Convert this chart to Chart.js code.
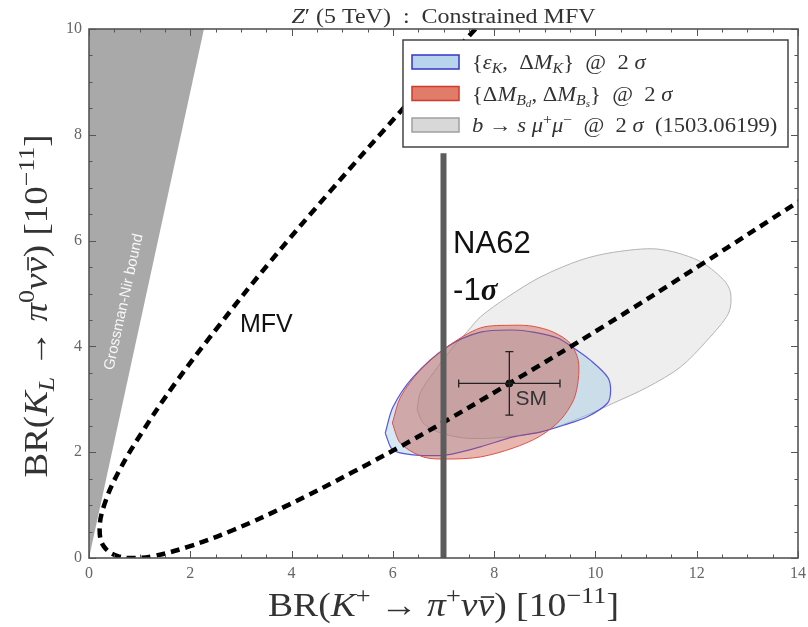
<!DOCTYPE html>
<html>
<head>
<meta charset="utf-8">
<script src="https://cdn.jsdelivr.net/npm/chart.js@4.4.0/dist/chart.umd.min.js"></script>
<style>
  html, body { margin: 0; padding: 0; background: #fff; }
</style>
</head>
<body>
<canvas id="zChart" width="808" height="627"></canvas>
<script>
// tick labels
const xTicks = [0, 2, 4, 6, 8, 10, 12, 14];
const yTicks = [0, 2, 4, 6, 8, 10];

// constrained MFV curve (upper branch -> vertex -> lower branch)
const mfvX = [7.63, 6.16, 4.77, 3.56, 2.54, 1.70, 1.05, 0.58, 0.30, 0.21, 0.30, 0.58, 0.87, 1.24, 1.95, 2.85, 3.93, 5.20, 6.66, 8.30, 10.13, 12.14, 14.03];
const mfvY = [10.0, 8.45, 6.94, 5.58, 4.36, 3.30, 2.38, 1.62, 1.00, 0.53, 0.21, 0.03, 0.00, 0.03, 0.21, 0.53, 1.00, 1.62, 2.38, 3.30, 4.36, 5.58, 6.75];

// Grossman-Nir excluded wedge
const gnX = [0, 0, 2.27, 0];
const gnY = [0, 10, 10, 0];

// NA62 -1 sigma
const na62X = [7.0, 7.0];
const na62Y = [0, 7.65];

// SM point with errors
const smX = [8.3];
const smY = [3.3];
const smXErr = [1.0];
const smYErr = [0.6];

// b -> s mu mu 2 sigma region
const bsX = [6.48, 6.54, 6.80, 7.19, 7.47, 7.73, 8.26, 8.91, 9.70, 10.36, 11.23, 12.02, 12.53, 12.67, 12.63, 12.21, 11.68, 11.03, 10.36, 9.70, 8.90, 8.00, 7.40, 6.90, 6.60, 6.48];
const bsY = [2.80, 3.12, 3.50, 3.99, 4.28, 4.56, 4.93, 5.31, 5.63, 5.78, 5.84, 5.63, 5.26, 5.01, 4.63, 4.12, 3.61, 3.23, 2.93, 2.65, 2.38, 2.27, 2.27, 2.38, 2.55, 2.80];

// Delta M_Bd, Delta M_Bs 2 sigma region
const bX = [5.99, 6.15, 6.54, 7.07, 7.73, 8.38, 8.77, 9.17, 9.50, 9.66, 9.66, 9.57, 9.31, 8.90, 8.38, 7.73, 7.07, 6.60, 6.15, 5.99];
const bY = [2.55, 3.04, 3.55, 3.99, 4.35, 4.40, 4.38, 4.27, 4.06, 3.74, 3.36, 2.99, 2.61, 2.30, 2.08, 1.91, 1.87, 1.91, 2.17, 2.55];

// eps_K, Delta M_K 2 sigma region
const kX = [5.85, 6.00, 6.40, 7.07, 7.73, 8.38, 8.77, 9.25, 9.57, 9.90, 10.24, 10.30, 10.24, 9.84, 9.37, 8.91, 8.38, 7.73, 7.07, 6.40, 6.00, 5.85];
const kY = [2.36, 2.85, 3.42, 3.99, 4.27, 4.31, 4.27, 4.16, 3.97, 3.74, 3.42, 3.18, 2.93, 2.67, 2.51, 2.38, 2.29, 2.10, 1.95, 1.95, 2.04, 2.36];

const SERIF = '"Liberation Serif", "DejaVu Serif", serif';
const SANS = '"Liberation Sans", Arial, sans-serif';

// rich text pieces: [text, flags]  i=italic b=bold ^=sup _=sub -=overbar s=sans
const titleParts = [["Z", "i"], ["\u2032", ""], [" (5 TeV)  :  Constrained MFV", ""]];
const xTitleParts = [["BR(", ""], ["K", "i"], ["+", "^"], [" \u2192 ", ""], ["\u03C0", "i"], ["+", "^"], ["\u03BD", "i"], ["\u03BD", "i-"], [") [10", ""], ["\u221211", "^"], ["]", ""]];
const yTitleParts = [["BR(", ""], ["K", "i"], ["L", "i_"], [" \u2192 ", ""], ["\u03C0", "i"], ["0", "^"], ["\u03BD", "i"], ["\u03BD", "i-"], [") [10", ""], ["\u221211", "^"], ["]", ""]];
const legendRows = [
  { fill: "rgba(184,212,236,1)", stroke: "#3434c8",
    parts: [["{", ""], ["\u03B5", "i"], ["K", "i_"], [",  \u0394", ""], ["M", "i"], ["K", "i_"], ["}  @  2 ", ""], ["\u03C3", "i"]] },
  { fill: "rgba(226,124,106,1)", stroke: "#d0392e",
    parts: [["{\u0394", ""], ["M", "i"], ["B", "i_"], ["d", "i__"], [", \u0394", ""], ["M", "i"], ["B", "i_"], ["s", "i__"], ["}  @  2 ", ""], ["\u03C3", "i"]] },
  { fill: "rgba(216,216,216,1)", stroke: "#a0a0a0",
    parts: [["b", "i"], [" \u2192 ", ""], ["s", "i"], [" ", ""], ["\u03BC", "i"], ["+", "^"], ["\u03BC", "i"], ["\u2212", "^"], ["  @  2 ", ""], ["\u03C3", "i"], ["  (1503.06199)", ""]] }
];

function partStyle(flags, size) {
  let s = size, dy = 0;
  for (const c of flags) {
    if (c === "^") { dy -= s * 0.38; s *= 0.7; }
    if (c === "_") { dy += s * 0.2; s *= 0.7; }
  }
  const font = (flags.includes("i") ? "italic " : "") + (flags.includes("b") ? "bold " : "") +
    s.toFixed(1) + "px " + (flags.includes("s") ? SANS : SERIF);
  return { s, dy, font };
}

function drawRich(ctx, parts, x, y, size, opts = {}) {
  const stretch = opts.stretch || 1;
  ctx.save();
  ctx.translate(x, y);
  if (opts.rotate) ctx.rotate(opts.rotate);
  ctx.scale(stretch, 1);
  ctx.textBaseline = "alphabetic";
  ctx.textAlign = "left";
  ctx.fillStyle = opts.color || "#222";
  const items = parts.map(([t, f]) => {
    const st = partStyle(f, size);
    ctx.font = st.font;
    return { t, f, st, w: ctx.measureText(t).width };
  });
  const total = items.reduce((a, it) => a + it.w, 0);
  let cx = opts.align === "center" ? -total / 2 : 0;
  for (const it of items) {
    ctx.font = it.st.font;
    ctx.fillText(it.t, cx, it.st.dy);
    if (it.f.includes("-")) {
      ctx.fillRect(cx + it.w * 0.2, it.st.dy - it.st.s * 0.6, it.w * 0.8, Math.max(1.2, it.st.s * 0.05));
    }
    cx += it.w;
  }
  ctx.restore();
}

const pts = (xs, ys) => xs.map((x, i) => ({ x, y: ys[i] }));

const overlay = {
  id: "overlay",
  afterDraw(chart) {
    const { ctx, chartArea: a, scales: { x, y } } = chart;

    // frame + inward ticks
    ctx.save();
    ctx.strokeStyle = "#555";
    ctx.lineWidth = 1;
    for (let v = 0; v <= 14.001; v += 0.5) {
      const px = Math.round(x.getPixelForValue(v)) + 0.5;
      const len = v % 2 === 0 ? 7 : 3.5;
      ctx.beginPath();
      ctx.moveTo(px, a.bottom); ctx.lineTo(px, a.bottom - len);
      ctx.moveTo(px, a.top); ctx.lineTo(px, a.top + len);
      ctx.stroke();
    }
    for (let v = 0; v <= 10.001; v += 0.5) {
      const py = Math.round(y.getPixelForValue(v)) + 0.5;
      const len = v % 2 === 0 ? 7 : 3.5;
      ctx.beginPath();
      ctx.moveTo(a.left, py); ctx.lineTo(a.left + len, py);
      ctx.moveTo(a.right, py); ctx.lineTo(a.right - len, py);
      ctx.stroke();
    }
    ctx.lineWidth = 1.6;
    ctx.strokeRect(a.left, a.top, a.right - a.left, a.bottom - a.top);
    ctx.restore();

    // SM error bars
    ctx.save();
    ctx.strokeStyle = "#222";
    ctx.lineWidth = 1.3;
    smX.forEach((sx, i) => {
      const cx = x.getPixelForValue(sx), cy = y.getPixelForValue(smY[i]);
      const x0 = x.getPixelForValue(sx - smXErr[i]), x1 = x.getPixelForValue(sx + smXErr[i]);
      const y0 = y.getPixelForValue(smY[i] - smYErr[i]), y1 = y.getPixelForValue(smY[i] + smYErr[i]);
      ctx.beginPath();
      ctx.moveTo(x0, cy); ctx.lineTo(x1, cy);
      ctx.moveTo(cx, y0); ctx.lineTo(cx, y1);
      ctx.moveTo(cx - 4, y0); ctx.lineTo(cx + 4, y0);
      ctx.moveTo(cx - 4, y1); ctx.lineTo(cx + 4, y1);
      ctx.moveTo(x0, cy - 4); ctx.lineTo(x0, cy + 4);
      ctx.moveTo(x1, cy - 4); ctx.lineTo(x1, cy + 4);
      ctx.stroke();
    });
    ctx.restore();

    // Grossman-Nir label along the wedge edge
    const ang = Math.atan2(y.getPixelForValue(10) - y.getPixelForValue(0), x.getPixelForValue(2.27) - x.getPixelForValue(0));
    ctx.save();
    ctx.translate(x.getPixelForValue(0.69), y.getPixelForValue(4.84));
    ctx.rotate(ang);
    ctx.font = "15px " + SANS;
    ctx.fillStyle = "rgba(255,255,255,0.9)";
    ctx.textAlign = "center";
    ctx.textBaseline = "middle";
    ctx.fillText("Grossman-Nir bound", 0, 0);
    ctx.restore();

    // annotations
    ctx.save();
    ctx.fillStyle = "#111";
    ctx.textBaseline = "alphabetic";
    ctx.textAlign = "left";
    ctx.font = "25px " + SANS;
    ctx.fillText("MFV", x.getPixelForValue(2.98), y.getPixelForValue(4.28));
    ctx.font = "31px " + SANS;
    ctx.fillText("NA62", x.getPixelForValue(7.19), y.getPixelForValue(5.77));
    ctx.fillText("-1", x.getPixelForValue(7.19), y.getPixelForValue(4.88));
    const w1 = ctx.measureText("-1").width;
    ctx.font = "bold italic 31px " + SERIF;
    ctx.fillText("\u03C3", x.getPixelForValue(7.19) + w1, y.getPixelForValue(4.88));
    ctx.fillStyle = "#333";
    ctx.font = "21px " + SANS;
    ctx.fillText("SM", x.getPixelForValue(8.42), y.getPixelForValue(2.89));
    ctx.restore();

    // title and axis titles
    const mid = (a.left + a.right) / 2;
    drawRich(ctx, titleParts, mid, a.top - 6, 20, { align: "center", color: "#333", stretch: 1.2 });
    drawRich(ctx, xTitleParts, mid, 616, 33, { align: "center", color: "#333", stretch: 1.14 });
    drawRich(ctx, yTitleParts, 47, 306, 33, { align: "center", color: "#333", stretch: 1.12, rotate: -Math.PI / 2 });

    // legend box
    const lx = a.right - 10 - 385, ly = a.top + 11;
    ctx.save();
    ctx.fillStyle = "#fff";
    ctx.fillRect(lx, ly, 385, 107);
    ctx.strokeStyle = "#444";
    ctx.lineWidth = 1.5;
    ctx.strokeRect(lx, ly, 385, 107);
    legendRows.forEach((r, i) => {
      const ry = ly + 22 + i * 31.5;
      ctx.fillStyle = r.fill;
      ctx.strokeStyle = r.stroke;
      ctx.lineWidth = 1.5;
      ctx.fillRect(lx + 9, ry - 7, 47, 14);
      ctx.strokeRect(lx + 9, ry - 7, 47, 14);
      drawRich(ctx, r.parts, lx + 69, ry + 7, 20, { color: "#333", stretch: 1.13 });
    });
    ctx.restore();
  }
};

new Chart(document.getElementById("zChart"), {
  type: "line",
  data: {
    datasets: [{
      label: "SM",
      data: pts(smX, smY),
      showLine: false,
      pointRadius: 3.5,
      pointBackgroundColor: "#111",
      pointBorderColor: "#111",
      order: 0
    }, {
      label: "NA62",
      data: pts(na62X, na62Y),
      borderColor: "#5c5c5c",
      borderWidth: 6,
      pointRadius: 0,
      fill: false,
      order: 1
    }, {
      label: "MFV",
      data: pts(mfvX, mfvY),
      borderColor: "#000",
      borderWidth: 4.5,
      borderDash: [9, 6],
      borderCapStyle: "butt",
      pointRadius: 0,
      tension: 0.4,
      fill: false,
      clip: 0,
      order: 2
    }, {
      label: "DeltaM_B",
      data: pts(bX, bY),
      borderColor: "rgba(220,70,60,0.9)",
      backgroundColor: "rgba(195,75,55,0.4)",
      borderWidth: 1,
      pointRadius: 0,
      tension: 0.3,
      fill: "shape",
      order: 3
    }, {
      label: "epsK",
      data: pts(kX, kY),
      borderColor: "rgba(70,70,220,0.9)",
      backgroundColor: "rgba(150,195,230,0.38)",
      borderWidth: 1.2,
      pointRadius: 0,
      tension: 0.3,
      fill: "shape",
      order: 4
    }, {
      label: "bsmumu",
      data: pts(bsX, bsY),
      borderColor: "#b4b4b4",
      backgroundColor: "#eeeeee",
      borderWidth: 1,
      pointRadius: 0,
      tension: 0.3,
      fill: "shape",
      order: 5
    }, {
      label: "GN",
      data: pts(gnX, gnY),
      borderWidth: 0,
      borderColor: "rgba(0,0,0,0)",
      backgroundColor: "#a9a9a9",
      pointRadius: 0,
      fill: "shape",
      order: 6
    }]
  },
  options: {
    responsive: false,
    animation: false,
    layout: { padding: { top: 29, right: 10, left: 0, bottom: 0 } },
    plugins: { legend: { display: false }, tooltip: { enabled: false }, title: { display: false } },
    scales: {
      x: {
        type: "linear", min: 0, max: 14,
        afterBuildTicks: s => { s.ticks = xTicks.map(v => ({ value: v })); },
        afterFit: s => { s.height = 69; s.paddingLeft = 0; s.paddingRight = 0; },
        grid: { display: false, drawTicks: false },
        border: { display: false },
        ticks: { color: "#666", padding: 6, font: { family: SERIF, size: 16 } }
      },
      y: {
        type: "linear", min: 0, max: 10,
        afterBuildTicks: s => { s.ticks = yTicks.map(v => ({ value: v })); },
        afterFit: s => { s.width = 89; s.paddingTop = 0; s.paddingBottom = 0; },
        grid: { display: false, drawTicks: false },
        border: { display: false },
        ticks: { color: "#666", padding: 7, font: { family: SERIF, size: 16 } }
      }
    }
  },
  plugins: [overlay]
});
</script>
</body>
</html>
